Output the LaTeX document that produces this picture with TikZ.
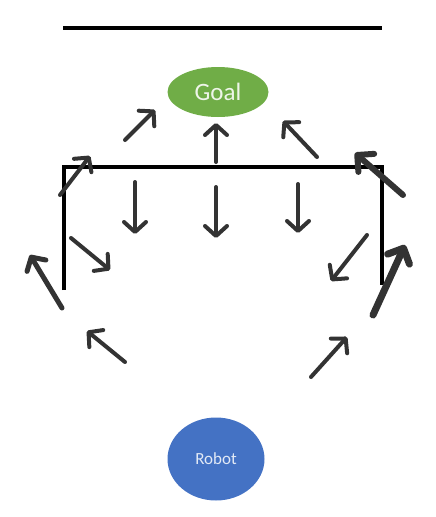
\documentclass[tikz,border=0pt]{standalone}
\usepackage{fontspec}
\setmainfont{Carlito}
\usetikzlibrary{arrows.meta,shapes.geometric}
\definecolor{goalgreen}{HTML}{70AD47}
\definecolor{robotblue}{HTML}{4472C4}
\definecolor{vecgray}{HTML}{333333}
\tikzset{
  vec/.style={draw=vecgray,line width=4pt,line cap=round,
    -{Straight Barb[length=10pt,width=22pt,round]}},
  bigvec/.style={vec,line width=6pt,-{Straight Barb[length=12pt,width=24pt,round]}},
  wall/.style={draw=black,line width=3.5pt}
}
\begin{document}
\begin{tikzpicture}[x=1pt,y=-1pt]
\tikzstyle{every node}=[ellipse,inner sep=0pt]
\useasboundingbox (0,0) rectangle (436,517);
\node[fill=goalgreen,text=white!88!goalgreen,minimum width=101pt,minimum height=50pt,font=\fontsize{25}{27}\selectfont] at (218,92) (goal) {Goal};
\node[fill=robotblue,text=white!85!robotblue,minimum width=97pt,minimum height=83pt,font=\fontsize{17}{19}\selectfont] at (216,459) (robot) {Robot};
\draw[wall,line width=4pt] (63,28) -- (382,28);
\draw[wall] (64,290) -- (64,167) -- (382,167) -- (382,285);
\draw[vec] (125,140) -- (155,110);
\draw[vec] (216,162) -- (216,123);
\draw[vec] (317,157) -- (283,121);
\draw[vec] (60,195) -- (90,156);
\draw[bigvec] (403,195) -- (355,153);
\draw[vec] (135,182) -- (135,234);
\draw[vec] (216,187) -- (216,238);
\draw[vec] (298,184) -- (298,233);
\draw[vec] (71,238) -- (110,270);
\draw[vec,line width=5pt] (62,308) -- (30,255);
\draw[vec] (367,235) -- (331,281);
\draw[bigvec,line width=7pt] (373,315) -- (405,245);
\draw[vec] (125,362) -- (87,331);
\draw[vec] (311,377) -- (347,337);
\end{tikzpicture}
\end{document}
